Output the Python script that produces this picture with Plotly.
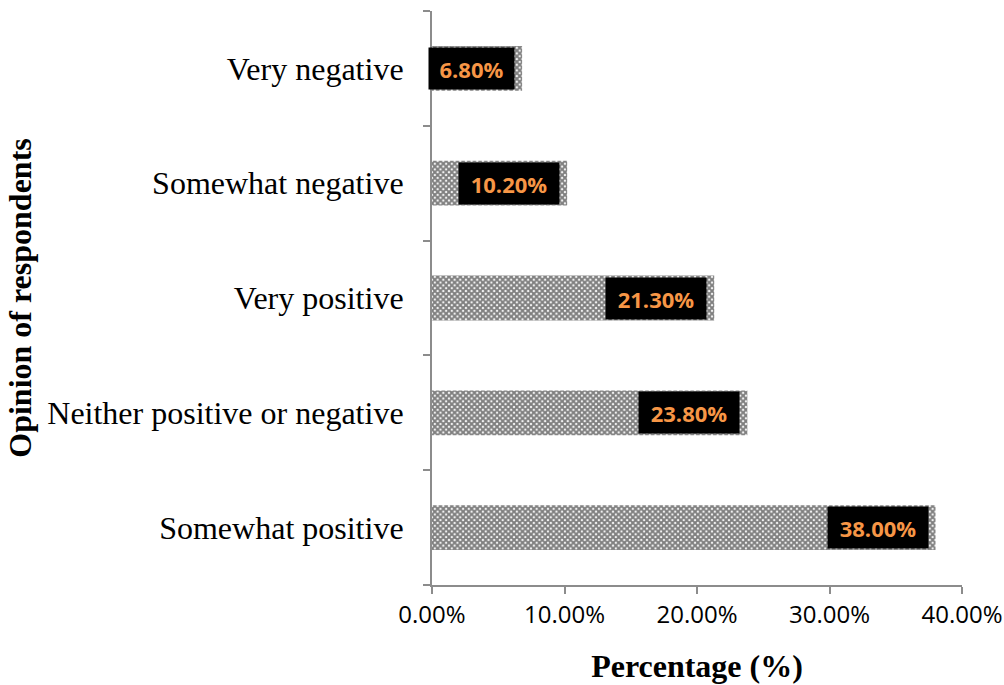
import plotly.graph_objects as go

# Opinion categories (top to bottom) and share of respondents
categories = [
    "Very negative",
    "Somewhat negative",
    "Very positive",
    "Neither positive or negative",
    "Somewhat positive",
]
shares = [0.068, 0.102, 0.213, 0.238, 0.380]
x_ticks = [0.0, 0.1, 0.2, 0.3, 0.4]

labels = [f"{v * 100:.2f}%" for v in shares]

fig = go.Figure()
fig.add_trace(
    go.Bar(
        y=categories,
        x=shares,
        orientation="h",
        width=0.39,
        marker=dict(
            color="white",
            line=dict(width=0),
            pattern=dict(shape="x", fgcolor="black", bgcolor="white",
                         size=4, solidity=0.75, fillmode="overlay"),
        ),
        hoverinfo="skip",
    )
)

# Value labels: black boxes with orange text inside the bar ends
for cat, v, lab in zip(categories, shares, labels):
    fig.add_annotation(
        x=v, y=cat, xref="x", yref="y",
        text=f"<b>{lab}</b>",
        showarrow=False,
        xanchor="right", yanchor="middle",
        xshift=-7,
        bgcolor="black",
        borderpad=5,
        width=15 * len(lab),
        height=31,
        font=dict(family="Open Sans, Liberation Sans, sans-serif", size=22,
                  color="#F79646"),
    )

axis_grey = "#8C8C8C"

fig.update_layout(
    width=1004, height=685,
    margin=dict(l=432, r=42, t=11, b=100, autoexpand=False),
    paper_bgcolor="white",
    plot_bgcolor="white",
    showlegend=False,
    bargap=0.61,
    xaxis=dict(
        range=[0, 0.4],
        tickvals=x_ticks,
        tickformat=".2%",
        automargin=False,
        showgrid=False,
        zeroline=False,
        showline=True,
        linecolor=axis_grey,
        linewidth=2,
        ticks="outside",
        ticklen=7,
        tickwidth=2,
        tickcolor=axis_grey,
        tickfont=dict(family="Open Sans, Liberation Sans, sans-serif",
                      size=24, color="black"),
        title=dict(text="<b>Percentage (%)</b>",
                   font=dict(family="Liberation Serif, Times New Roman, serif",
                             size=32, color="black"),
                   standoff=26),
    ),
    yaxis=dict(
        categoryorder="array",
        categoryarray=categories[::-1],
        automargin=False,
        showgrid=False,
        zeroline=False,
        showline=True,
        linecolor=axis_grey,
        linewidth=2,
        ticks="outside",
        tickson="boundaries",
        ticklen=7,
        tickwidth=2,
        tickcolor=axis_grey,
        ticklabelstandoff=20,
        tickfont=dict(family="Liberation Serif, Times New Roman, serif",
                      size=32, color="black"),
        title=dict(text="<b>Opinion of respondents</b>",
                   font=dict(family="Liberation Serif, Times New Roman, serif",
                             size=32, color="black"),
                   standoff=6),
    ),
)

fig.write_html("out.html")
